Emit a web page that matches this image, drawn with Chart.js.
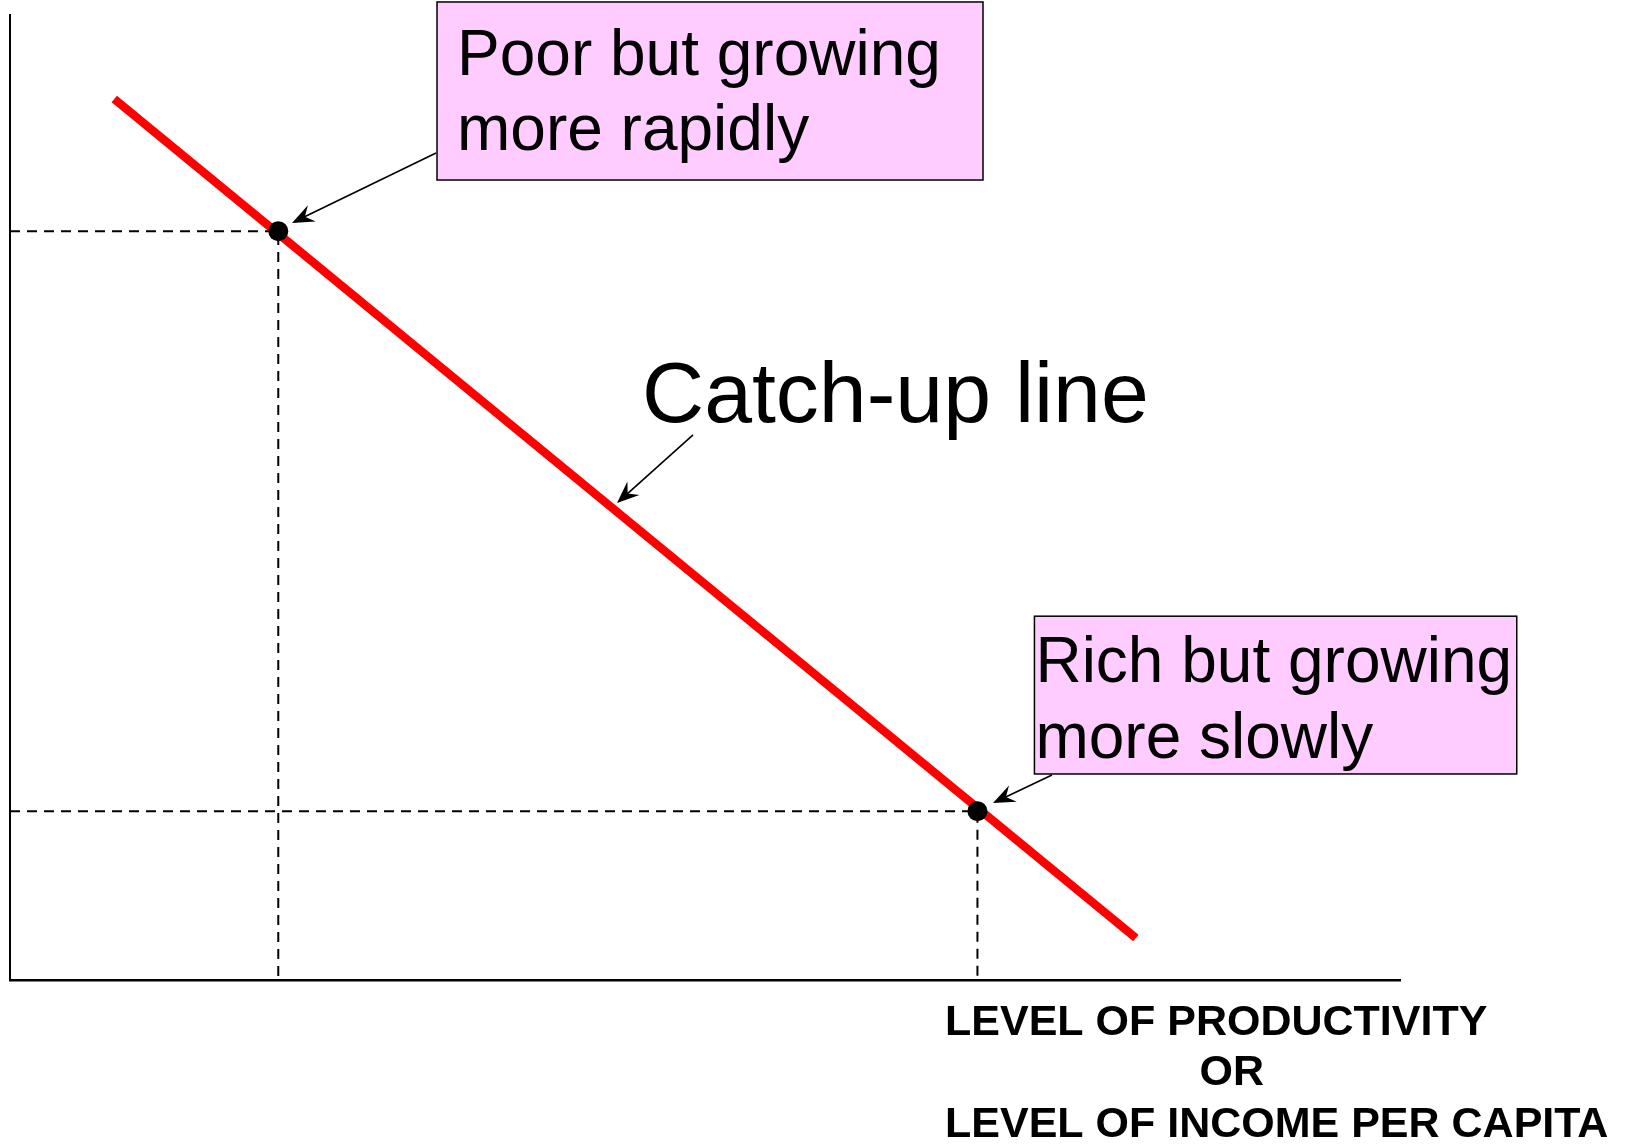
<!DOCTYPE html>
<html>
<head>
<meta charset="utf-8">
<title>Catch-up line</title>
<script src="https://cdn.jsdelivr.net/npm/chart.js@4.4.0/dist/chart.umd.min.js"></script>
<style>
  html, body { margin: 0; padding: 0; background: #fff; overflow: hidden; }
  canvas { display: block; }
</style>
</head>
<body>
<canvas id="chart" width="1629" height="1144"></canvas>
<script>
// catch-up line (level on x, growth rate on y, both 0..100)
var catchX = [7.5, 81.0];
var catchY = [91.3, 4.35];

// the two marked economies
var pointX = [19.3, 69.6];
var pointY = [77.6, 17.5];

var boxTexts = [
    ['Poor but growing', 'more rapidly'],
    ['Rich but growing', 'more slowly']
];
var lineLabel = 'Catch-up line';
var axisLabel = ['LEVEL OF PRODUCTIVITY', 'OR', 'LEVEL OF INCOME PER CAPITA'];

function dropLine(x, y) {
    return [{ x: 0, y: y }, { x: x, y: y }, { x: x, y: 0 }];
}

function arrow(ctx, x1, y1, x2, y2) {
    var a = Math.atan2(y2 - y1, x2 - x1);
    var len = 22, w = 9;
    ctx.beginPath();
    ctx.moveTo(x1, y1);
    ctx.lineTo(x2 - Math.cos(a) * 10, y2 - Math.sin(a) * 10);
    ctx.stroke();
    ctx.beginPath();
    ctx.moveTo(x2, y2);
    ctx.lineTo(x2 - Math.cos(a) * len + Math.sin(a) * w, y2 - Math.sin(a) * len - Math.cos(a) * w);
    ctx.lineTo(x2 - Math.cos(a) * len * 0.65, y2 - Math.sin(a) * len * 0.65);
    ctx.lineTo(x2 - Math.cos(a) * len - Math.sin(a) * w, y2 - Math.sin(a) * len + Math.cos(a) * w);
    ctx.closePath();
    ctx.fill();
}

var notesPlugin = {
    id: 'notes',
    afterDraw: function (chart, args, opts) {
        var ctx = chart.ctx;
        var xs = chart.scales.x, ys = chart.scales.y;
        ctx.save();

        opts.boxes.forEach(function (b) {
            var l = xs.getPixelForValue(b.x1), r = xs.getPixelForValue(b.x2);
            var t = ys.getPixelForValue(b.y1), btm = ys.getPixelForValue(b.y2);
            ctx.fillStyle = '#ffccff';
            ctx.fillRect(l, t, r - l, btm - t);
            ctx.strokeStyle = '#000';
            ctx.lineWidth = 1.5;
            ctx.strokeRect(l, t, r - l, btm - t);
            ctx.fillStyle = '#000';
            ctx.font = '64px "Liberation Sans", Arial, sans-serif';
            ctx.textAlign = 'left';
            ctx.textBaseline = 'alphabetic';
            b.lines.forEach(function (s, i) {
                ctx.fillText(s, l + b.padX, t + b.baseline + i * b.lineHeight);
            });
        });

        ctx.strokeStyle = '#000';
        ctx.fillStyle = '#000';
        ctx.lineWidth = 1.6;
        opts.arrows.forEach(function (a) {
            arrow(ctx,
                xs.getPixelForValue(a.from[0]), ys.getPixelForValue(a.from[1]),
                xs.getPixelForValue(a.to[0]), ys.getPixelForValue(a.to[1]));
        });

        ctx.font = '86px "Liberation Sans", Arial, sans-serif';
        ctx.textAlign = 'left';
        ctx.fillText(opts.label.text, xs.getPixelForValue(opts.label.x), ys.getPixelForValue(opts.label.y));

        var base = ys.getPixelForValue(0);
        ctx.font = 'bold 43px "Liberation Sans", Arial, sans-serif';
        opts.axis.lines.forEach(function (s, i) {
            var y = base + opts.axis.baselines[i];
            if (s === 'OR') {
                ctx.textAlign = 'center';
                ctx.fillText(s, xs.getPixelForValue(opts.axis.center), y);
            } else {
                ctx.textAlign = 'left';
                ctx.fillText(s, xs.getPixelForValue(opts.axis.left), y);
            }
        });
        ctx.restore();
    }
};

var dashStyle = {
    borderColor: '#000',
    borderWidth: 2,
    borderDash: [10, 7],
    pointRadius: 0,
    showLine: true,
    fill: false,
    clip: false
};

var data = {
    datasets: [
        {
            label: 'points',
            data: pointX.map(function (x, i) { return { x: x, y: pointY[i] }; }),
            pointRadius: 10,
            pointBackgroundColor: '#000',
            pointBorderWidth: 0,
            showLine: false,
            clip: false
        },
        {
            label: 'catch-up',
            data: catchX.map(function (x, i) { return { x: x, y: catchY[i] }; }),
            borderColor: '#ff0000',
            borderWidth: 8.5,
            borderCapStyle: 'butt',
            pointRadius: 0,
            showLine: true,
            clip: false
        },
        Object.assign({ label: 'poor', data: dropLine(pointX[0], pointY[0]) }, dashStyle),
        Object.assign({ label: 'rich', data: dropLine(pointX[1], pointY[1]) }, dashStyle)
    ]
};

var ctx = document.getElementById('chart').getContext('2d');
var chart = new Chart(ctx, {
    type: 'scatter',
    data: data,
    plugins: [notesPlugin],
    options: {
        responsive: false,
        animation: false,
        events: [],
        layout: {
            autoPadding: false,
            padding: { left: 10, top: 15, right: 229, bottom: 164 }
        },
        scales: {
            x: {
                type: 'linear', min: 0, max: 100,
                ticks: { display: false },
                grid: { display: false, drawTicks: false },
                border: { display: true, color: '#000', width: 2.5 }
            },
            y: {
                type: 'linear', min: 0, max: 100,
                ticks: { display: false },
                grid: { display: false, drawTicks: false },
                border: { display: true, color: '#000', width: 2 }
            }
        },
        plugins: {
            legend: { display: false },
            tooltip: { enabled: false },
            notes: {
                boxes: [
                    { x1: 30.72, x2: 70.0, y1: 101.35, y2: 82.9, lines: boxTexts[0], padX: 20, baseline: 73, lineHeight: 75 },
                    { x1: 73.7, x2: 108.4, y1: 37.7, y2: 21.35, lines: boxTexts[1], padX: 1, baseline: 66, lineHeight: 76 }
                ],
                arrows: [
                    { from: [30.65, 85.7], to: [20.29, 78.45] },
                    { from: [49.14, 56.48], to: [43.67, 49.43] },
                    { from: [74.96, 21.24], to: [70.72, 18.34] }
                ],
                label: { text: lineLabel, x: 45.47, y: 57.82 },
                axis: { lines: axisLabel, left: 67.27, center: 87.9, baselines: [55, 105, 157] }
            }
        }
    }
});
</script>
</body>
</html>
